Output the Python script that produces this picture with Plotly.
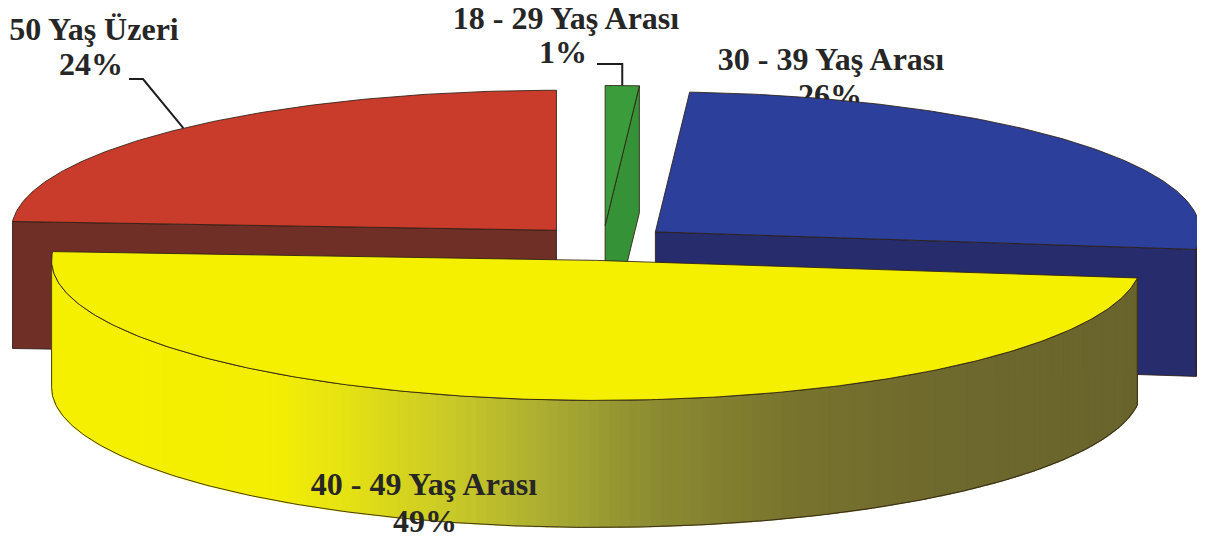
import numpy as np
import plotly.graph_objects as go

# ---------------- data ----------------
categories = ["18 - 29 Yaş Arası", "30 - 39 Yaş Arası", "40 - 49 Yaş Arası", "50 Yaş Üzeri"]
values = [1, 26, 49, 24]

# ---------------- style ----------------
top_colors = ["#3A9C3A", "#2B3F9B", "#F4F000", "#C93B2A"]
side_colors = ["#369236", "#272C6C", "#E8E400", "#6F2F27"]
gradient_slice = 2  # index of the slice whose front wall is shaded
grad_stops = [(0.0, (245, 240, 0)), (0.20, (244, 239, 2)), (0.26, (232, 228, 18)),
              (0.37, (200, 200, 40)), (0.46, (168, 170, 50)), (0.55, (140, 140, 50)),
              (0.68, (120, 115, 45)), (0.82, (110, 105, 45)), (1.0, (104, 100, 44))]
EDGE = "rgba(45,30,20,0.85)"
W, H = 1205, 544
OFF = 8                 # page body margin of the html page
CX, CY = 603, 243       # pie centre (px)
RX, RY = 545, 140       # ellipse radii (px)
DEPTH = 127             # pie thickness (px)
EXPLODE = 68            # explosion distance (px, along rx scale)
START_ANGLE = 0.0       # first slice starts at 12 o'clock, clockwise
FONT = dict(family="Liberation Serif", size=32, color="#262626")

# label layout: (text line, x, y) per category, plus where each leader starts
label_lines = {
    0: [("18 - 29 Yaş Arası", 566, 21), ("1%", 563, 55)],
    1: [("30 - 39 Yaş Arası", 831, 62), ("26%", 830, 98)],
    2: [("40 - 49 Yaş Arası", 424, 487), ("49%", 425, 524)],
    3: [("50 Yaş Üzeri", 94, 32), ("24%", 91, 67)],
}
occluded_labels = {1}          # label drawn behind the pie (as in the original)
leader_start = {3: (129, 79, 143), 0: (597, 64, None)}  # (x0, y, elbow x or None->vertical)

total = float(sum(values))


def rim(cx, cy, deg, dz=0.0):
    t = np.radians(deg)
    return cx + RX * np.sin(t), cy - RY * np.cos(t) + dz


def arc(cx, cy, a1, a2, dz=0.0, n=None):
    if n is None:
        n = max(3, int(abs(a2 - a1) * 1.5))
    ts = np.linspace(a1, a2, n)
    xs, ys = rim(cx, cy, ts, dz)
    return list(xs), list(ys)


def interp_color(u):
    for (u0, c0), (u1, c1) in zip(grad_stops[:-1], grad_stops[1:]):
        if u <= u1:
            f = 0 if u1 == u0 else (u - u0) / (u1 - u0)
            c = [round(c0[k] + f * (c1[k] - c0[k])) for k in range(3)]
            return "rgb(%d,%d,%d)" % tuple(c)
    return "rgb(%d,%d,%d)" % grad_stops[-1][1]


def poly(xs, ys, fill, line=EDGE, lw=1.0):
    return go.Scatter(x=list(xs) + [xs[0]], y=list(ys) + [ys[0]], mode="lines",
                      fill="toself", fillcolor=fill, line=dict(color=line, width=lw),
                      hoverinfo="skip", showlegend=False)


def text_trace(lines):
    return go.Scatter(x=[l[1] for l in lines], y=[l[2] for l in lines],
                      text=["<b>%s</b>" % l[0] for l in lines], mode="text",
                      textposition="middle center", textfont=FONT, cliponaxis=False,
                      hoverinfo="skip", showlegend=False)


# slice angles (clockwise from 12 o'clock)
angles = []
a = START_ANGLE
for v in values:
    a2 = a + 360.0 * v / total
    angles.append((a, a2))
    a = a2

slices = []
for i, (a1, a2) in enumerate(angles):
    mid = np.radians((a1 + a2) / 2)
    cx = CX + EXPLODE * np.sin(mid)
    cy = CY - EXPLODE * np.cos(mid) * RY / RX
    slices.append(dict(i=i, a1=a1, a2=a2, cx=cx, cy=cy, mid=(a1 + a2) / 2))

fig = go.Figure()

# labels that sit behind the pie
for i in occluded_labels:
    fig.add_trace(text_trace(label_lines[i]))

for s in sorted(slices, key=lambda d: d["cy"]):
    i, a1, a2, cx, cy = s["i"], s["a1"], s["a2"], s["cx"], s["cy"]
    # outer (front-facing) wall
    lo, hi = max(a1, 90.0), min(a2, 270.0)
    if lo < hi:
        if i == gradient_slice:
            xl, _ = rim(cx, cy, 270.0)
            xr, _ = rim(cx, cy, 90.0)
            edges = np.linspace(lo, hi, 160)
            for e0, e1 in zip(edges[:-1], edges[1:]):
                tx, ty = arc(cx, cy, e0, e1, n=3)
                bx, by = arc(cx, cy, e1, e0, DEPTH, n=3)
                xm = (tx[0] + tx[-1]) / 2
                u = (xm - xl) / (xr - xl) if xr != xl else 0
                col = interp_color(min(max(u, 0), 1))
                fig.add_trace(poly(tx + bx, ty + by, col, line=col, lw=1.2))
            tx, ty = arc(cx, cy, lo, hi)
            bx, by = arc(cx, cy, hi, lo, DEPTH)
            fig.add_trace(go.Scatter(x=tx + bx + [tx[0]], y=ty + by + [ty[0]], mode="lines",
                                     line=dict(color=EDGE, width=1), hoverinfo="skip",
                                     showlegend=False))
        else:
            tx, ty = arc(cx, cy, lo, hi)
            bx, by = arc(cx, cy, hi, lo, DEPTH)
            fig.add_trace(poly(tx + bx, ty + by, side_colors[i]))
    # radial cut faces
    for ang, visible in ((a1, np.sin(np.radians(a1)) < -1e-9), (a2, np.sin(np.radians(a2)) > 1e-9)):
        if visible:
            rx_, ry_ = rim(cx, cy, ang)
            fig.add_trace(poly([cx, rx_, rx_, cx], [cy, ry_, ry_ + DEPTH, cy + DEPTH],
                               side_colors[i]))
    # top surface
    tx, ty = arc(cx, cy, a1, a2)
    fig.add_trace(poly([cx] + tx, [cy] + ty, top_colors[i]))

# remaining labels
for i in range(len(categories)):
    if i not in occluded_labels:
        fig.add_trace(text_trace(label_lines[i]))

# leader lines from the labels to the rim at each slice's mid-angle
for i, (x0, y0, xe) in leader_start.items():
    s = slices[i]
    ex, ey = rim(s["cx"], s["cy"], s["mid"])
    if xe is None:
        xe = ex
    fig.add_trace(go.Scatter(x=[x0, xe, ex], y=[y0, y0, ey], mode="lines",
                             line=dict(color="#1e1e1e", width=2),
                             hoverinfo="skip", showlegend=False))

fig.update_layout(
    width=W - OFF, height=H - OFF, margin=dict(l=0, r=0, t=0, b=0, pad=0),
    paper_bgcolor="white", plot_bgcolor="white", showlegend=False,
    xaxis=dict(range=[OFF, W], visible=False, fixedrange=True),
    yaxis=dict(range=[H, OFF], visible=False, fixedrange=True),
    hovermode=False,
)

fig.write_html("out.html")
